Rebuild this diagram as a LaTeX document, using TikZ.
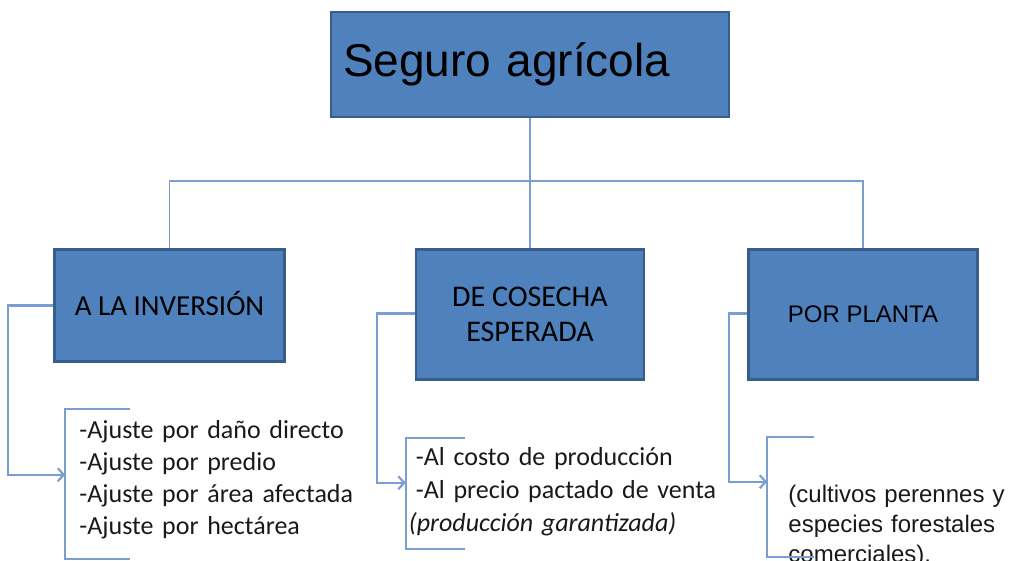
\documentclass[tikz,border=0pt]{standalone}
\usepackage{fontspec}
\setmainfont{Carlito}
\newfontfamily\arialfont{Liberation Sans}
\usetikzlibrary{positioning,arrows.meta}

\definecolor{boxblue}{RGB}{79,129,189}
\definecolor{boxedge}{RGB}{56,93,138}
\definecolor{lineblue}{RGB}{122,158,208}
\definecolor{textgray}{RGB}{25,25,25}

\tikzset{
  box/.style={draw=boxedge, line width=2.5pt, fill=boxblue, align=center, text=black},
  tree/.style={draw=lineblue, line width=1.8pt},
  conn/.style={draw=lineblue, line width=2.2pt, ->},
  bracket/.style={draw=lineblue, line width=2pt},
  lista/.style={align=left, inner sep=0pt, anchor=north west, text=textgray},
}

\begin{document}
\begin{tikzpicture}[x=1pt,y=1pt,>={Straight Barb[length=6pt,width=13pt]}]
    \useasboundingbox (0,0) rectangle (1031,-560);

    \node[box, minimum width=398pt, minimum height=105pt, text width=374pt, inner xsep=12pt, align=left, font=\arialfont\fontsize{46}{50}\selectfont] (seguro) at (530,-64.5) {Seguro agrícola};
    \node[box, minimum width=228pt, minimum height=130pt, font=\fontsize{30}{35}\selectfont] (cosecha) [below=130pt of seguro] {DE COSECHA\\ESPERADA};
    \node[box, minimum width=230pt, minimum height=112pt, text height=19pt, text depth=0pt, font=\fontsize{29}{35}\selectfont] (inversion) [below left=0pt and 129pt of cosecha.north west] {A LA INVERSIÓN};
    \node[box, minimum width=229pt, minimum height=130pt, font=\arialfont\fontsize{24}{29}\selectfont] (planta) [below right=0pt and 102pt of cosecha.north east] {POR PLANTA};

    \node[lista, text width=290pt, inner xsep=14pt, font=\fontsize{26}{32}\selectfont] (ajustes) [below right=46pt and 12pt of inversion.south west] {\rule{0pt}{30pt}-Ajuste por daño directo\\-Ajuste por predio\\-Ajuste por área afectada\\-Ajuste por hectárea};
    \node[lista, text width=310pt, inner xsep=3pt, font=\fontsize{26}{33}\selectfont] (costos) [below=57pt of cosecha.south west, anchor=north west, xshift=-9pt] {\rule{0pt}{28pt}\hspace{7pt}-Al costo de producción\\\hspace{7pt}-Al precio pactado de venta\\\textit{(producción garantizada)}};
    \node[lista, text width=260pt, inner xsep=21pt, font=\arialfont\fontsize{24}{30}\selectfont] (cultivos) [below right=56pt and 20pt of planta.south west] {\rule{0pt}{66pt}(cultivos perennes y\\especies forestales\\comerciales).};

    \draw[tree] (seguro.south) -- (cosecha.north);
    \draw[tree] (inversion.north) |- ([yshift=-63pt]seguro.south) -| (planta.north);

    \draw[conn] (inversion.west) -- ++(-45pt,0) |- ([yshift=-66pt]ajustes.north west);
    \draw[conn] ([yshift=1pt]cosecha.west) -- ++(-38pt,0) |- ([yshift=-45pt]costos.north west);
    \draw[conn] ([yshift=1pt]planta.west) -- ++(-18pt,0) |- ([yshift=-45pt]cultivos.north west);

    \draw[bracket] ([xshift=65pt]ajustes.north west) -- (ajustes.north west) -- ++(0,-150pt) -- ++(65pt,0);
    \draw[bracket] ([xshift=59pt]costos.north west) -- (costos.north west) -- ++(0,-111pt) -- ++(59pt,0);
    \draw[bracket] ([xshift=47pt]cultivos.north west) -- (cultivos.north west) -- ++(0,-120pt) -- ++(47pt,0);
\end{tikzpicture}
\end{document}
